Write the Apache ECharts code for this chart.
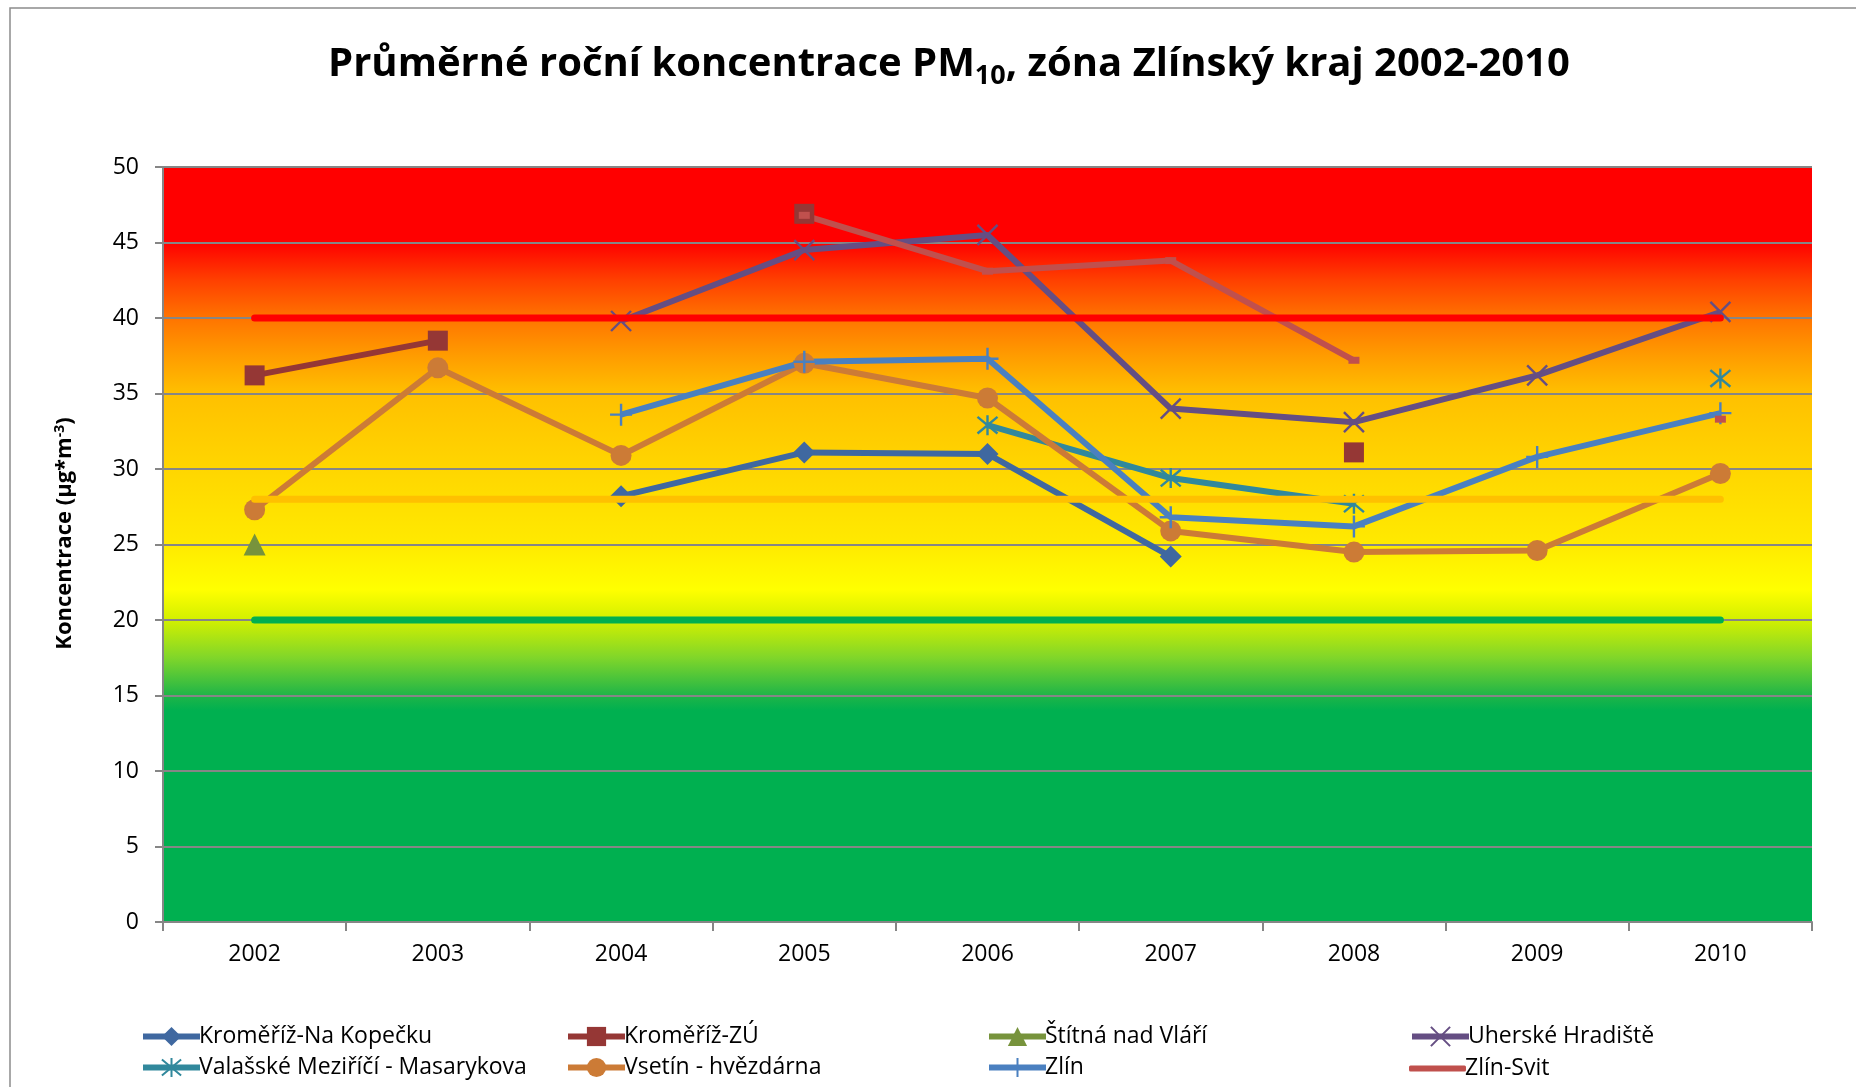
<!DOCTYPE html>
<html>
<head>
<meta charset="utf-8">
<script src="https://cdn.jsdelivr.net/npm/echarts@6/dist/echarts.min.js"></script>
<style>
  html, body { margin: 0; padding: 0; background: #fff; }
  #main { width: 1856px; height: 1087px; }
</style>
</head>
<body>
<div id="main"></div>
<script>
// roky
var years = ['2002', '2003', '2004', '2005', '2006', '2007', '2008', '2009', '2010'];

// stanice - průměrné roční koncentrace PM10
var krNaKopecku = [null, null, 28.2, 31.1, 31.0, 24.2, null, null, null];
var krZU = [36.2, 38.5, null, 46.9, null, null, 31.1, null, null];
var stitna = [25.0, null, null, null, null, null, null, null, null];
var uhHradiste = [null, null, 39.8, 44.5, 45.5, 34.0, 33.1, 36.2, 40.4];
var valMezirici = [null, null, null, null, 32.9, 29.4, 27.7, null, 36.0];
var vsetin = [27.3, 36.7, 30.9, 37.0, 34.7, 25.9, 24.5, 24.6, 29.7];
var zlin = [null, null, 33.6, 37.1, 37.3, 26.8, 26.2, 30.8, 33.7];
var zlinSvit = [null, null, null, 46.8, 43.1, 43.8, 37.2, null, 33.3];

// limity
var limit40 = [40, 40, 40, 40, 40, 40, 40, 40, 40];
var limit28 = [28, 28, 28, 28, 28, 28, 28, 28, 28];
var limit20 = [20, 20, 20, 20, 20, 20, 20, 20, 20];

var yTicks = [0, 50, 5]; // min, max, interval

var FONT = '"Open Sans", "DejaVu Sans", sans-serif';

var chart = echarts.init(document.getElementById('main'), null, { renderer: 'canvas' });

// znacky
var symX = 'path://M0,0L10,10M10,0L0,10';
var symStar = 'path://M0,0L10,10M10,0L0,10M5,-1L5,11';
var symPlus = 'path://M5,0L5,10M0,5L10,5';

function station(name, data, color, symbol, size, stroke) {
  return {
    name: name,
    type: 'line',
    data: data,
    symbol: symbol,
    symbolSize: size,
    showAllSymbol: true,
    connectNulls: false,
    lineStyle: { color: color, width: 6 },
    itemStyle: stroke
      ? { color: color, borderColor: color, borderWidth: 2.4 }
      : { color: color, borderWidth: 0 },
    emphasis: { disabled: true },
    z: 3
  };
}

function limit(data, color) {
  return {
    name: 'limit' + data[0],
    type: 'line',
    data: data,
    symbol: 'none',
    lineStyle: { color: color, width: 7, cap: 'round' },
    emphasis: { disabled: true },
    z: 4
  };
}

// jedna polozka legendy = jedna komponenta, at sedi sloupce
function legendItem(left, top, name) {
  return {
    left: left,
    top: top,
    padding: 0,
    itemWidth: 57,
    itemHeight: 24,
    data: [name],
    lineStyle: { width: 6 },
    textStyle: { fontFamily: FONT, fontSize: 23, color: '#000', padding: [0, 0, 0, -6] }
  };
}

var svitLegend = legendItem(1409, 1057, 'Zlín-Svit');
svitLegend.itemHeight = 6;
svitLegend.data = [{ name: 'Zlín-Svit', icon: 'roundRect' }];

var option = {
  animation: false,
  backgroundColor: '#fff',
  title: {
    text: 'Průměrné roční koncentrace PM{sub|10}, zóna Zlínský kraj 2002-2010',
    left: 944,
    top: 34,
    textAlign: 'center',
    textStyle: {
      fontFamily: FONT,
      fontSize: 40,
      fontWeight: 'bold',
      color: '#000',
      rich: {
        sub: { fontFamily: FONT, fontSize: 27, fontWeight: 'bold', color: '#000', padding: [24, 0, 0, 0] }
      }
    }
  },
  graphic: [{
    type: 'rect',
    shape: { x: 10, y: 8, width: 1900, height: 1200 },
    style: { fill: 'none', stroke: '#8c8c8c', lineWidth: 1.5 },
    silent: true,
    z: -10
  }],
  legend: [
    legendItem(140, 1025, 'Kroměříž-Na Kopečku'),
    legendItem(565, 1025, 'Kroměříž-ZÚ'),
    legendItem(986, 1025, 'Štítná nad Vláří'),
    legendItem(1409, 1025, 'Uherské Hradiště'),
    legendItem(140, 1056, 'Valašské Meziříčí - Masarykova'),
    legendItem(565, 1056, 'Vsetín - hvězdárna'),
    legendItem(986, 1056, 'Zlín'),
    svitLegend
  ],
  grid: {
    left: 163,
    right: 44,
    top: 167,
    bottom: 165,
    show: true,
    borderWidth: 0,
    backgroundColor: {
      type: 'linear', x: 0, y: 0, x2: 0, y2: 1,
      colorStops: [
        { offset: 0.00, color: '#FF0000' },
        { offset: 0.10, color: '#FF0000' },
        { offset: 0.15, color: '#FF4000' },
        { offset: 0.20, color: '#FF7400' },
        { offset: 0.25, color: '#FF9C00' },
        { offset: 0.30, color: '#FFC000' },
        { offset: 0.40, color: '#FFD600' },
        { offset: 0.50, color: '#FFEA00' },
        { offset: 0.56, color: '#FFFF00' },
        { offset: 0.60, color: '#D2F000' },
        { offset: 0.65, color: '#80D62A' },
        { offset: 0.70, color: '#1FB548' },
        { offset: 0.72, color: '#00B050' },
        { offset: 1.00, color: '#00B050' }
      ]
    }
  },
  xAxis: {
    type: 'category',
    data: years,
    boundaryGap: true,
    axisLine: { show: true, lineStyle: { color: '#868686', width: 2 } },
    axisTick: { show: true, length: 9, alignWithLabel: false, lineStyle: { color: '#868686', width: 2 } },
    axisLabel: { margin: 21, fontFamily: FONT, fontSize: 23, color: '#000' },
    splitLine: { show: false }
  },
  yAxis: {
    type: 'value',
    min: yTicks[0],
    max: yTicks[1],
    interval: yTicks[2],
    name: 'Koncentrace (µg*m{sup|-3})',
    nameLocation: 'middle',
    nameGap: 86,
    nameRotate: 90,
    nameTextStyle: {
      fontFamily: FONT,
      fontSize: 22,
      fontWeight: 'bold',
      color: '#000',
      padding: [0, 0, 0, 22],
      rich: {
        sup: { fontFamily: FONT, fontSize: 14, fontWeight: 'bold', color: '#000', padding: [0, 0, 10, 0] }
      }
    },
    axisLine: { show: true, lineStyle: { color: '#868686', width: 2 } },
    axisTick: { show: true, length: 8, lineStyle: { color: '#868686', width: 2 } },
    axisLabel: { margin: 24, fontFamily: FONT, fontSize: 23, color: '#000' },
    splitLine: { show: true, lineStyle: { color: '#868686', width: 2 } }
  },
  series: [
    station('Kroměříž-Na Kopečku', krNaKopecku, '#3F68A0', 'diamond', 22, false),
    station('Kroměříž-ZÚ', krZU, '#953735', 'rect', 20, false),
    station('Štítná nad Vláří', stitna, '#77933C', 'triangle', 22, false),
    station('Uherské Hradiště', uhHradiste, '#654E83', symX, 20, true),
    station('Valašské Meziříčí - Masarykova', valMezirici, '#31889C', symStar, 20, true),
    station('Vsetín - hvězdárna', vsetin, '#CC7B36', 'circle', 21, false),
    station('Zlín', zlin, '#4A80C0', symPlus, 22, true),
    station('Zlín-Svit', zlinSvit, '#C0504D', 'rect', [11, 7], false),
    limit(limit40, '#FF0000'),
    limit(limit28, '#FFC000'),
    limit(limit20, '#00B050')
  ]
};

chart.setOption(option);
</script>
</body>
</html>
